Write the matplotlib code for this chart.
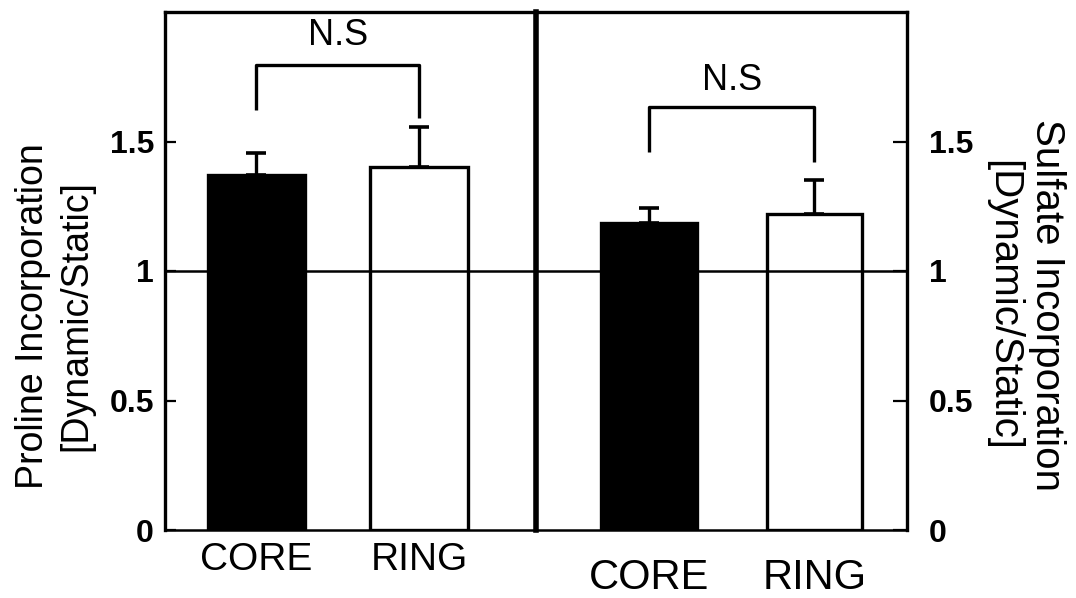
import numpy as np
import matplotlib.pyplot as plt

plt.rcParams['font.family'] = ['Liberation Sans', 'DejaVu Sans']

# data
groups = ["CORE", "RING"]
proline_mean = [1.37, 1.40]
proline_err = [0.085, 0.155]
sulfate_mean = [1.185, 1.22]
sulfate_err = [0.058, 0.13]
bar_colors = ["black", "white"]

yticks = [0, 0.5, 1, 1.5]
ytick_labels = ["0", "0.5", "1", "1.5"]

# significance brackets: (top, left leg end, right leg end)
proline_bracket = [1.795, 1.622, 1.591]
sulfate_bracket = [1.633, 1.459, 1.421]
sig_label = "N.S"

fig = plt.figure(figsize=(10.76, 5.98), dpi=100)
ax1 = fig.add_axes([165 / 1076, 68 / 598, 371 / 1076, 518 / 598])
ax2 = fig.add_axes([536 / 1076, 68 / 598, 371 / 1076, 518 / 598])
ax2.patch.set_visible(False)

x = np.arange(len(groups))


def draw_panel(ax, means, errs, bracket, width, xlim, text_y):
    ax.bar(x, means, width=width, color=bar_colors, edgecolor="black",
           linewidth=2.4, zorder=2)
    ax.errorbar(x, means, yerr=[np.zeros(len(errs)), errs], fmt="none",
                ecolor="black", elinewidth=2.4, capsize=7, capthick=2.6,
                zorder=1)
    ax.axhline(1, color="black", linewidth=1.8, zorder=3)
    top, left_end, right_end = bracket
    ax.plot([x[0], x[0], x[1], x[1]], [left_end, top, top, right_end],
            color="black", linewidth=2.4, solid_capstyle="butt")
    ax.text((x[0] + x[1]) / 2, text_y, sig_label, ha="center", va="center",
            fontsize=26)
    ax.set_xlim(*xlim)
    ax.set_ylim(0, 2.0)
    ax.set_yticks(yticks)
    ax.set_yticklabels(ytick_labels, fontweight="bold", fontsize=23)
    ax.set_xticks(x)
    for s in ax.spines.values():
        s.set_linewidth(2.4)


draw_panel(ax1, proline_mean, proline_err, proline_bracket, 0.6,
           (-0.563, 1.72), 1.91)
draw_panel(ax2, sulfate_mean, sulfate_err, sulfate_bracket, 0.58,
           (-0.683, 1.559), 1.737)

ax1.set_xticklabels(groups, fontsize=28)
ax2.set_xticklabels(groups, fontsize=30)
ax1.tick_params(axis="x", length=0, pad=9)
ax2.tick_params(axis="x", length=0, pad=20)

ax1.tick_params(axis="y", direction="in", length=8, width=1.6, pad=8,
                left=True, right=False)
ax2.yaxis.tick_right()
ax2.tick_params(axis="y", direction="in", length=10, width=1.6, pad=16,
                left=False, right=True)

ax1.spines["bottom"].set_linewidth(1.8)
ax2.spines["bottom"].set_linewidth(1.8)
ax1.spines["right"].set_linewidth(4.0)
ax1.spines["right"].set_zorder(5)
ax2.spines["left"].set_visible(False)

fig.text(55 / 1076, 1 - 316 / 598, "Proline Incorporation\n[Dynamic/Static]",
         rotation=90, ha="center", va="center", multialignment="center",
         fontsize=27, linespacing=1.25)
fig.text(1025 / 1076, 1 - 305 / 598, "Sulfate Incorporation\n[Dynamic/Static]",
         rotation=-90, ha="center", va="center", multialignment="center",
         fontsize=29, linespacing=1.2)

fig.savefig("out.png", dpi=100)
